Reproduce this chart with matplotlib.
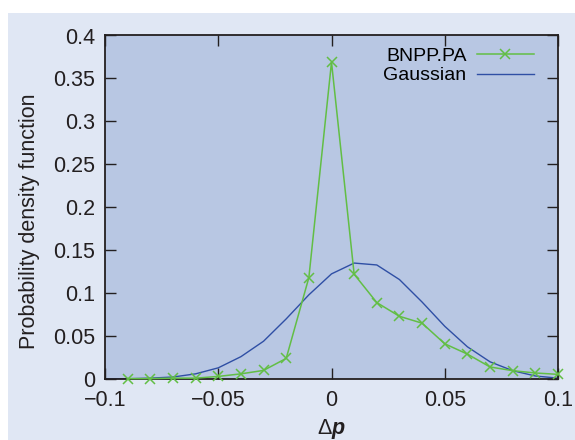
import matplotlib.pyplot as plt
from matplotlib.patches import Rectangle

# bin centres (delta p) and the two density curves
dp = [-0.1, -0.09, -0.08, -0.07, -0.06, -0.05, -0.04, -0.03, -0.02, -0.01, 0.0,
      0.01, 0.02, 0.03, 0.04, 0.05, 0.06, 0.07, 0.08, 0.09, 0.1]
gauss = [0.0001, 0.0003, 0.001, 0.0023, 0.006, 0.013, 0.026, 0.044, 0.070, 0.098, 0.1224,
         0.135, 0.1328, 0.1158, 0.0896, 0.0614, 0.0375, 0.020, 0.0097, 0.0035, 0.001]
dp_bnp = dp[1:]
bnp = [0.0005, 0.0005, 0.001, 0.001, 0.003, 0.006, 0.010, 0.024, 0.118, 0.369,
       0.122, 0.089, 0.073, 0.065, 0.041, 0.029, 0.014, 0.0097, 0.007, 0.0054]

xticks = [-0.1, -0.05, 0, 0.05, 0.1]
xticklabels = ['\u22120.1', '\u22120.05', '0', '0.05', '0.1']
yticks = [0, 0.05, 0.1, 0.15, 0.2, 0.25, 0.3, 0.35, 0.4]
yticklabels = ['0', '0.05', '0.1', '0.15', '0.2', '0.25', '0.3', '0.35', '0.4']

plt.rcParams['font.family'] = ['Liberation Sans', 'DejaVu Sans']
plt.rcParams['mathtext.fontset'] = 'custom'
plt.rcParams['mathtext.rm'] = 'Liberation Sans'
plt.rcParams['mathtext.it'] = 'Liberation Sans:italic'
plt.rcParams['mathtext.bf'] = 'Liberation Sans:bold'
plt.rcParams['mathtext.bfit'] = 'Liberation Sans:italic:bold'

fsize = 15.5
ink = '#231f20'

fig = plt.figure(figsize=(5.75, 4.4), dpi=100)
fig.patch.set_facecolor('white')
# light blue panel behind the plot
panel = Rectangle((8 / 575, 0), 1 - 8 / 575, (440 - 13) / 440,
                  transform=fig.transFigure, facecolor='#e0e7f4',
                  edgecolor='none', zorder=-10)
fig.add_artist(panel)

ax = fig.add_axes([105 / 575, 61 / 440, 453 / 575, 343.5 / 440])
ax.set_zorder(1)
ax.set_facecolor('#b8c7e3')

green = '#62be45'
blue = '#2f4fa5'
ax.plot(dp_bnp, bnp, color=green, lw=1.1, marker='x', ms=7, mew=1.1,
        label='BNPP.PA', clip_on=False, zorder=3)
ax.plot(dp, gauss, color=blue, lw=1.0, label='Gaussian', zorder=2)

ax.set_xlim(-0.1, 0.1)
ax.set_ylim(0, 0.4)
ax.set_xticks(xticks)
ax.set_xticklabels(xticklabels)
ax.set_yticks(yticks)
ax.set_yticklabels(yticklabels)
ax.tick_params(direction='in', top=True, right=True, length=8, width=1,
               labelsize=fsize, colors=ink)
ax.tick_params(axis='x', pad=8)
ax.tick_params(axis='y', pad=7)
for s in ax.spines.values():
    s.set_linewidth(1.3)
    s.set_color(ink)

ax.set_xlabel(r'$\Delta\mathbfit{p}$', fontsize=fsize, color=ink)
ax.xaxis.set_label_coords(0.5, -0.11)
ax.set_ylabel('Probability density function', fontsize=fsize, color=ink)
ax.yaxis.set_label_coords(-0.143, 0.46)

ax.legend(loc='upper right', frameon=False, markerfirst=False, fontsize=14,
          handlelength=2.9, handletextpad=0.55, labelspacing=0.1,
          borderaxespad=0.2, bbox_to_anchor=(0.972, 1.0))

fig.savefig('out.png', dpi=100)
